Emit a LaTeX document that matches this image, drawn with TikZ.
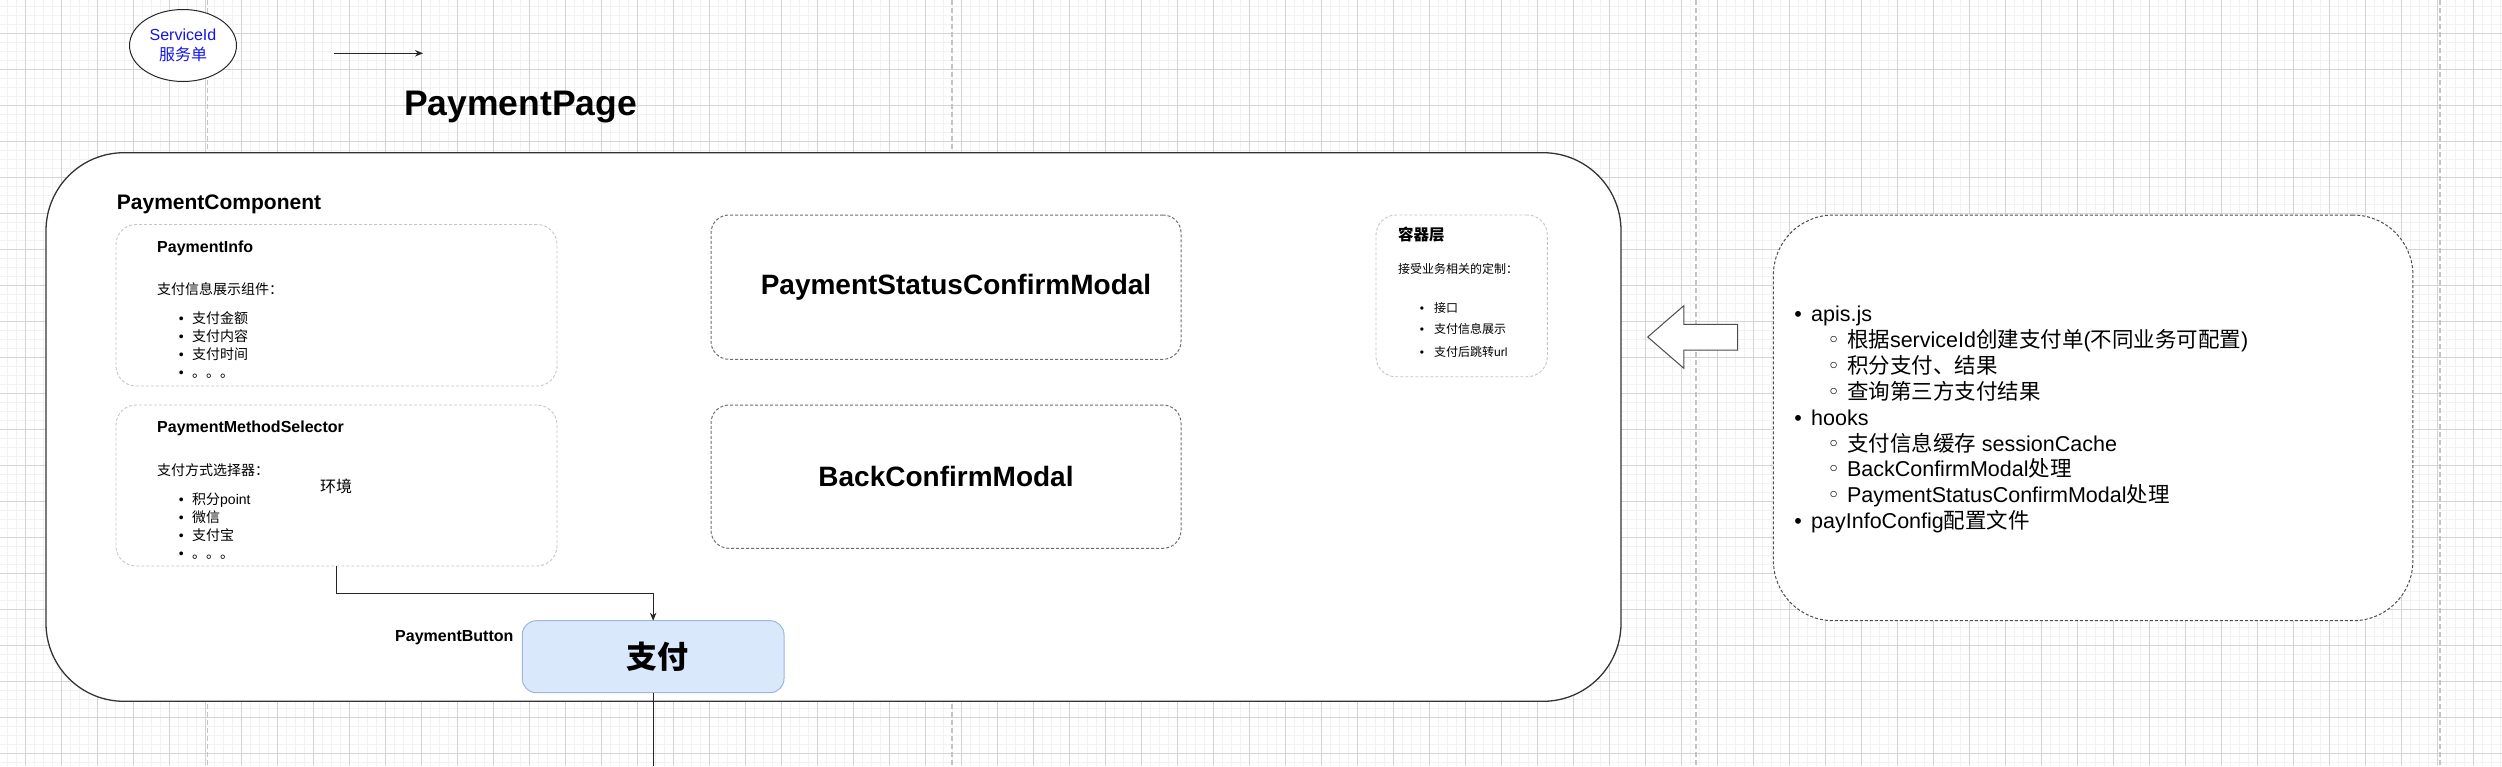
\documentclass[tikz,border=0pt]{standalone}
\usepackage{fontspec}
\setmainfont{Liberation Sans}
\newfontfamily\cjk{Noto Sans CJK SC}
\newfontfamily\djv{DejaVu Sans}
\usetikzlibrary{shapes.geometric,arrows.meta}
\definecolor{gminor}{HTML}{F2F2F2}
\definecolor{gmajor}{HTML}{D4D4D4}
\definecolor{pagebr}{HTML}{C4C4C4}
\definecolor{svcblue}{HTML}{1414F0}
\definecolor{btnfill}{HTML}{DAE8FC}
\definecolor{btnline}{HTML}{9DB6DD}
\definecolor{lightdash}{HTML}{C6C6C6}
\definecolor{darkdash}{HTML}{6E6E6E}
\newcommand\lbul[2]{\llap{\makebox[0pt][c]{#2}\hspace{#1}}}
\newcommand\fs[1]{\fontsize{#1}{#1}\selectfont}
\tikzset{
  gridminor/.style={draw=gminor, line width=0.8pt},
  gridmajor/.style={draw=gmajor, line width=1pt},
  pagebreak/.style={draw=pagebr, line width=1.5pt, dash pattern=on 5pt off 3pt},
  container/.style={draw=black!80, line width=1.3pt, fill=white, rounded corners=78pt, inner sep=0pt, outer sep=0pt},
  lightbox/.style={draw=lightdash, line width=0.9pt, dash pattern=on 3pt off 2pt, fill=white, rounded corners=20pt, inner sep=0pt, outer sep=0pt},
  modalbox/.style={draw=darkdash, line width=1pt, dash pattern=on 3pt off 2pt, fill=white, rounded corners=18pt, inner sep=0pt, outer sep=0pt, font=\fs{28}\bfseries},
  listbox/.style={draw=black!70, line width=1pt, dash pattern=on 3pt off 2pt, fill=white, rounded corners=60pt, inner sep=0pt, outer sep=0pt},
  btnbox/.style={draw=btnline, fill=btnfill, line width=1pt, rounded corners=14pt, inner sep=0pt, outer sep=0pt, font=\fs{31}\bfseries\cjk},
  conn/.style={draw=black!85, line width=1pt, -{Stealth[length=8pt,width=6.5pt]}},
  plainline/.style={draw=black!85, line width=1pt},
  txt/.style={inner sep=0pt, anchor=base west},
  bigarrow/.style={draw=black!70, line width=1pt, fill=white, line join=miter}
}
\begin{document}
\begin{tikzpicture}[x=1pt,y=-1pt]
\useasboundingbox (0,0) rectangle (2502,766);
\begin{scope}
\clip (0,0) rectangle (2502,766);
% background grid
\foreach \i in {0,...,277} \draw[gridminor] ({7.3+9*\i},0) -- ++(0,766);
\foreach \i in {0,...,85} \draw[gridminor] (0,{6+9*\i}) -- ++(2502,0);
\foreach \i in {0,...,69} \draw[gridmajor] ({25.3+36*\i},0) -- ++(0,766);
\foreach \i in {0,...,21} \draw[gridmajor] (0,{-3+36*\i}) -- ++(2502,0);
% page breaks
\foreach \x in {207.7,951.8,1695.9,2440} \draw[pagebreak] (\x,0) -- (\x,766);
\end{scope}

% ServiceId ellipse
\node[ellipse, draw=black!85, line width=1pt, fill=white, minimum width=107pt, minimum height=72pt, inner sep=0pt,
      align=center, text=svcblue, font=\fontsize{16}{20}\selectfont] (svc) at (183,45.5) {ServiceId\\{\cjk 服务单}};
\coordinate (a1) at (334,53.3);
\coordinate (a2) at (423,53.3);
\draw[conn] (a1) -- (a2);

\node[txt, font=\fs{35.5}\bfseries] (title) at (404,115) {PaymentPage};

% main container
\node[container, minimum width=1575pt, minimum height=548.6pt] (page) at (833.5,427) {};
\node[txt, font=\fs{21}\bfseries] (pclabel) at (116.7,209) {PaymentComponent};

% PaymentInfo
\node[lightbox, minimum width=441pt, minimum height=161.5pt] (pinfo) at (336.5,305.25) {};
\node[txt, font=\fs{16}\bfseries] (pinfot) at (157,252.7) {PaymentInfo};
\node[txt, font=\fs{14}] (pinfod) at (157,294.3) {\cjk 支付信息展示组件：};
\node[txt, font=\fs{14}] (pi1) at (192,323.3) {\lbul{11pt}{•}\cjk 支付金额};
\node[txt, font=\fs{14}] (pi2) at (192,341.3) {\lbul{11pt}{•}\cjk 支付内容};
\node[txt, font=\fs{14}] (pi3) at (192,359.3) {\lbul{11pt}{•}\cjk 支付时间};
\node[txt, font=\fs{14}] (pi4) at (192,377.3) {\lbul{11pt}{•}\cjk 。。。};

% PaymentMethodSelector
\node[lightbox, minimum width=441pt, minimum height=161pt] (pms) at (336.5,485.5) {};
\node[txt, font=\fs{16}\bfseries] (pmst) at (157,432.3) {PaymentMethodSelector};
\node[txt, font=\fs{14}] (pmsd) at (157,475.3) {\cjk 支付方式选择器：};
\node[font=\fs{16}, inner sep=0pt] (env) at (336,486.7) {\cjk 环境};
\node[txt, font=\fs{14}] (pm1) at (192,504.6) {\lbul{11pt}{•}{\cjk 积分}point};
\node[txt, font=\fs{14}] (pm2) at (192,522.6) {\lbul{11pt}{•}\cjk 微信};
\node[txt, font=\fs{14}] (pm3) at (192,540.6) {\lbul{11pt}{•}\cjk 支付宝};
\node[txt, font=\fs{14}] (pm4) at (192,558.6) {\lbul{11pt}{•}\cjk 。。。};

% modals
\node[modalbox, minimum width=470pt, minimum height=144.3pt] (pscm) at (946,287.15) {\hspace{20pt}PaymentStatusConfirmModal};
\node[modalbox, minimum width=470pt, minimum height=143.3pt] (bcm) at (946,476.65) {BackConfirmModal};

% container layer
\node[lightbox, minimum width=171.3pt, minimum height=161.7pt] (ctr) at (1461.65,295.85) {};
\node[txt, font=\fs{15.5}\bfseries\cjk] (ctrt) at (1398,240.2) {容器层};
\node[txt, font=\fs{12}] (ctrd) at (1398,273.9) {\cjk 接受业务相关的定制：};
\node[txt, font=\fs{12}] (c1) at (1434,312.3) {\lbul{12.3pt}{•}\cjk 接口};
\node[txt, font=\fs{12}] (c2) at (1434,333.9) {\lbul{12.3pt}{•}\cjk 支付信息展示};
\node[txt, font=\fs{12}] (c3) at (1434,356.3) {\lbul{12.3pt}{•}{\cjk 支付后跳转}url};

% payment button
\node[txt, font=\fs{16}\bfseries] (pbl) at (395,641.8) {PaymentButton};
\node[btnbox, minimum width=261.7pt, minimum height=72pt] (btn) at (653.15,656.7) {\hspace{8pt}支付};
\coordinate (btnend) at (653.15,766);
\draw[conn] (pms.south) -- ++(0,27.5) -| (btn.north);
\draw[plainline] (btn.south) -- (btnend);

% big left arrow
\draw[bigarrow] (1737.7,324.3) -- (1683.8,324.3) -- (1683.8,305.7) -- (1647.7,337) -- (1683.8,368.3) -- (1683.8,350) -- (1737.7,350) -- cycle;

% right list box
\node[listbox, minimum width=639.5pt, minimum height=405.7pt] (rbox) at (2093.15,417.85) {};
\node[txt, font=\fs{21.5}] (r1) at (1811,321.5) {\lbul{13pt}{•}apis.js};
\node[txt, font=\fs{21.5}] (r2) at (1846.8,347.4) {\lbul{13.2pt}{\djv ◦}{\cjk 根据}serviceId{\cjk 创建支付单}({\cjk 不同业务可配置})};
\node[txt, font=\fs{21.5}] (r3) at (1846.8,373.3) {\lbul{13.2pt}{\djv ◦}\cjk 积分支付、结果};
\node[txt, font=\fs{21.5}] (r4) at (1846.8,399.2) {\lbul{13.2pt}{\djv ◦}\cjk 查询第三方支付结果};
\node[txt, font=\fs{21.5}] (r5) at (1811,425.1) {\lbul{13pt}{•}hooks};
\node[txt, font=\fs{21.5}] (r6) at (1846.8,451.0) {\lbul{13.2pt}{\djv ◦}{\cjk 支付信息缓存} sessionCache};
\node[txt, font=\fs{21.5}] (r7) at (1846.8,476.9) {\lbul{13.2pt}{\djv ◦}BackConfirmModal{\cjk 处理}};
\node[txt, font=\fs{21.5}] (r8) at (1846.8,502.8) {\lbul{13.2pt}{\djv ◦}PaymentStatusConfirmModal{\cjk 处理}};
\node[txt, font=\fs{21.5}] (r9) at (1811,528.7) {\lbul{13pt}{•}payInfoConfig{\cjk 配置文件}};
\end{tikzpicture}
\end{document}
